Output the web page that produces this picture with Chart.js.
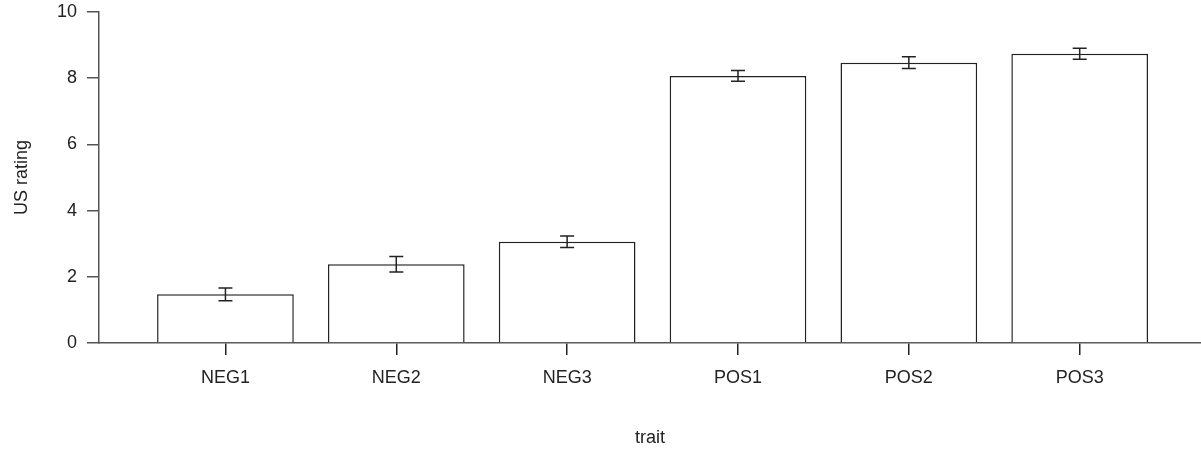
<!DOCTYPE html>
<html>
<head>
<meta charset="utf-8">
<script src="https://cdn.jsdelivr.net/npm/chart.js@4"></script>
<style>
  html, body { margin: 0; padding: 0; background: #ffffff; }
  #wrap { width: 1201px; height: 449px; }
</style>
</head>
<body>
<div id="wrap"><canvas id="c" width="1201" height="449"></canvas></div>
<script>
// Mean rating per trait with its standard error
const traits = ['NEG1', 'NEG2', 'NEG3', 'POS1', 'POS2', 'POS3'];
const meanRating = [1.47, 2.38, 3.06, 8.07, 8.47, 8.74];
const stdError = [0.19, 0.235, 0.175, 0.165, 0.18, 0.165];
const yTicks = [0, 2, 4, 6, 8, 10];

const ink = '#222222';
const axisInk = '#555555';
const fontFamily = '"Liberation Sans", Arial, Helvetica, sans-serif';

// Draws error bars (mean ± SE) centred on each bar
const errorBars = {
  id: 'errorBars',
  afterDatasetsDraw(chart) {
    const meta = chart.getDatasetMeta(0);
    const yScale = chart.scales.y;
    const ctx = chart.ctx;
    ctx.save();
    ctx.strokeStyle = ink;
    ctx.lineWidth = 1.5;
    meta.data.forEach((bar, i) => {
      const x = bar.x;
      const yHi = yScale.getPixelForValue(meanRating[i] + stdError[i]);
      const yLo = yScale.getPixelForValue(meanRating[i] - stdError[i]);
      const half = 7;
      ctx.beginPath();
      ctx.moveTo(x, yHi); ctx.lineTo(x, yLo);
      ctx.moveTo(x - half, yHi); ctx.lineTo(x + half, yHi);
      ctx.moveTo(x - half, yLo); ctx.lineTo(x + half, yLo);
      ctx.stroke();
    });
    ctx.restore();
  }
};

new Chart(document.getElementById('c'), {
  type: 'bar',
  data: {
    datasets: [{
      data: traits.map((t, i) => ({ x: i, y: meanRating[i] })),
      backgroundColor: '#ffffff',
      borderColor: ink,
      borderWidth: 1.5,
      categoryPercentage: 1,
      barPercentage: 0.8
    }]
  },
  options: {
    responsive: false,
    animation: false,
    devicePixelRatio: 1,
    layout: { padding: { top: 12, right: 0, bottom: 0, left: 0 } },
    plugins: { legend: { display: false }, tooltip: { enabled: false } },
    scales: {
      x: {
        type: 'linear',
        offset: false,
        min: -0.74,
        max: 5.71,
        afterBuildTicks(scale) {
          scale.ticks = traits.map((t, i) => ({ value: i }));
        },
        afterFit(scale) {
          scale.height = 106;
          scale.paddingLeft = 0;
          scale.paddingRight = 0;
        },
        grid: {
          display: true,
          offset: false,
          drawOnChartArea: false,
          drawTicks: true,
          tickLength: 12,
          color: ink,
          lineWidth: 1.5
        },
        border: { display: true, color: axisInk, width: 1.5 },
        ticks: {
          autoSkip: false,
          maxRotation: 0,
          padding: 12,
          color: ink,
          font: { family: fontFamily, size: 18 },
          callback: (v) => traits[v]
        },
        title: {
          display: true,
          text: 'trait',
          color: ink,
          padding: { top: 0, bottom: 0 },
          font: { family: fontFamily, size: 18 }
        }
      },
      y: {
        min: 0,
        max: 10,
        afterBuildTicks(scale) {
          scale.ticks = yTicks.map(v => ({ value: v }));
        },
        afterFit(scale) {
          scale.width = 99;
          scale.paddingTop = 0;
          scale.paddingBottom = 0;
        },
        grid: {
          display: true,
          drawOnChartArea: false,
          drawTicks: true,
          tickLength: 12,
          color: axisInk,
          lineWidth: 1.5
        },
        border: { display: true, color: axisInk, width: 1.5 },
        ticks: {
          padding: 10,
          color: ink,
          font: { family: fontFamily, size: 18 }
        },
        title: {
          display: true,
          text: 'US rating',
          color: ink,
          padding: { top: 11, bottom: 0 },
          font: { family: fontFamily, size: 18 }
        }
      }
    }
  },
  plugins: [errorBars]
});
</script>
</body>
</html>
